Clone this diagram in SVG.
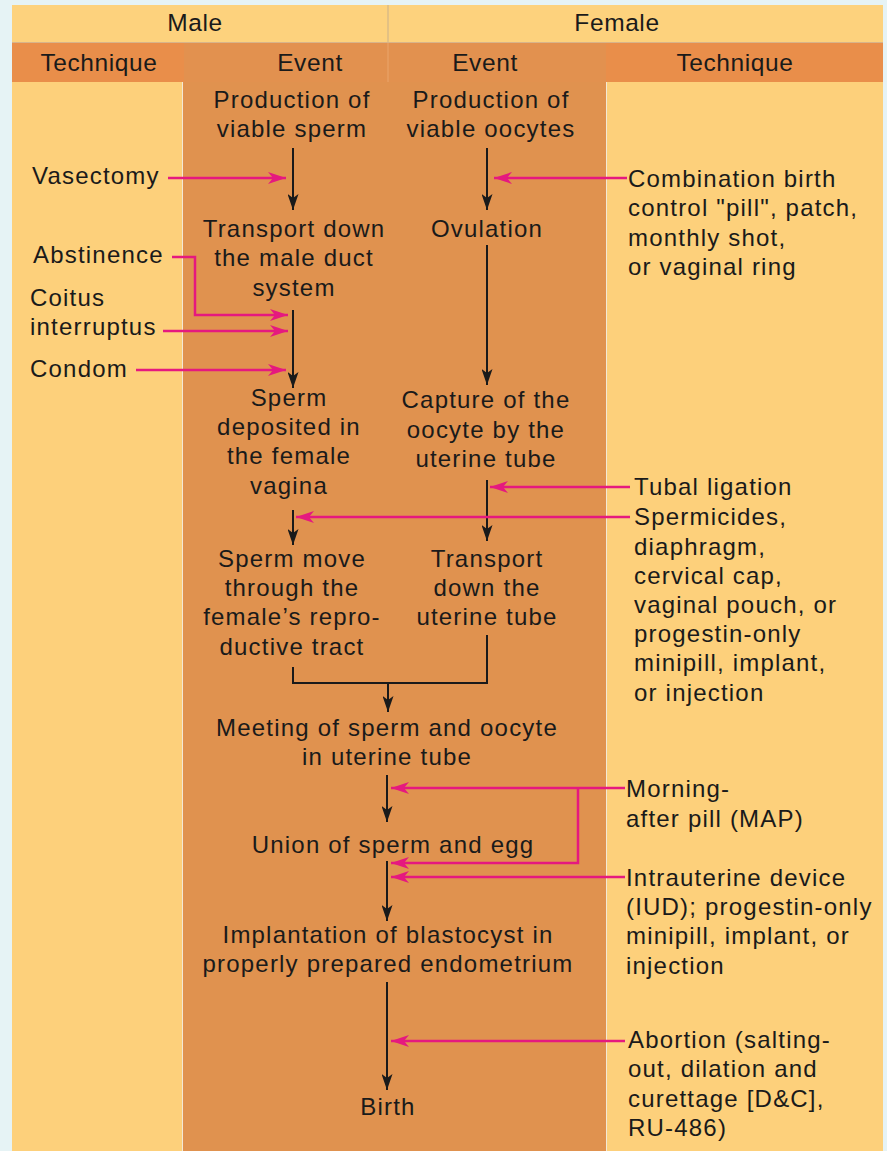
<svg xmlns="http://www.w3.org/2000/svg" width="887" height="1151" viewBox="0 0 887 1151">
<style>
text{font-family:"Liberation Sans",Arial,sans-serif;font-size:24px;fill:#1a1a1a;letter-spacing:1.2px}
.c{text-anchor:middle}
.h{font-size:24.5px;letter-spacing:0.6px}
.bk{stroke:#1a1a1a;stroke-width:2;fill:none}
.pk{stroke:#e5197f;stroke-width:2.5;fill:none}
</style>
<defs>
<marker id="ab" viewBox="0 0 16 11" refX="16" refY="5.5" markerWidth="16" markerHeight="11" markerUnits="userSpaceOnUse" orient="auto"><path d="M0,0 L16,5.5 L0,11 L4,5.5 z" fill="#1a1a1a"/></marker>
<marker id="ap" viewBox="0 0 18 12" refX="18" refY="6" markerWidth="18" markerHeight="12" markerUnits="userSpaceOnUse" orient="auto"><path d="M0,0 L18,6 L0,12 L5,6 z" fill="#e5197f"/></marker>
</defs>
<rect width="887" height="1151" fill="#e6f3f5"/>
<g id="background">
<rect x="12" y="5" width="871" height="37" fill="#fdd27d"/>
<line x1="388" y1="5" x2="388" y2="42" stroke="#c9b08a" stroke-width="1"/>
<rect x="12" y="43" width="871" height="39" fill="#e98e4a"/>
<rect x="184" y="43" width="422" height="39" fill="#e2914f"/>
<line x1="12" y1="42.5" x2="883" y2="42.5" stroke="#d8b48a" stroke-width="1"/>
<line x1="388" y1="43" x2="388" y2="82" stroke="#eaa56c" stroke-width="1"/>
<rect x="12" y="82" width="171" height="1069" fill="#fdd07b"/>
<rect x="183" y="82" width="423" height="1069" fill="#e0924f"/>
<rect x="606" y="82" width="277" height="1069" fill="#fdd07b"/>
<line x1="182.5" y1="82" x2="182.5" y2="1151" stroke="#f3e8d6" stroke-width="1"/>
<line x1="606.5" y1="82" x2="606.5" y2="1151" stroke="#f3e8d6" stroke-width="1"/>
</g>
<g id="headers">
<text class="c h" x="195" y="31">Male</text>
<text class="c h" x="617" y="31">Female</text>
<text class="c h" x="99" y="71">Technique</text>
<text class="c h" x="310" y="71">Event</text>
<text class="c h" x="485" y="71">Event</text>
<text class="c h" x="735" y="71">Technique</text>
</g>
<g id="connectors">
<line class="bk" x1="293" y1="148" x2="293" y2="210" marker-end="url(#ab)"/>
<line class="bk" x1="487" y1="148" x2="487" y2="210" marker-end="url(#ab)"/>
<line class="bk" x1="293" y1="310" x2="293" y2="388" marker-end="url(#ab)"/>
<line class="bk" x1="487" y1="245" x2="487" y2="385" marker-end="url(#ab)"/>
<line class="bk" x1="487" y1="480" x2="487" y2="541" marker-end="url(#ab)"/>
<line class="bk" x1="293" y1="510" x2="293" y2="545" marker-end="url(#ab)"/>
<polyline class="bk" points="293,667 293,683 487,683 487,635"/>
<line class="bk" x1="388" y1="683" x2="388" y2="712" marker-end="url(#ab)"/>
<line class="bk" x1="387" y1="775" x2="387" y2="822" marker-end="url(#ab)"/>
<line class="bk" x1="387" y1="861" x2="387" y2="921" marker-end="url(#ab)"/>
<line class="bk" x1="387" y1="982" x2="387" y2="1090" marker-end="url(#ab)"/>
<line class="pk" x1="168" y1="178" x2="286" y2="178" marker-end="url(#ap)"/>
<polyline class="pk" points="172,257 195,257 195,315 288,315" marker-end="url(#ap)"/>
<line class="pk" x1="163" y1="331" x2="288" y2="331" stroke-width="3.2" marker-end="url(#ap)"/>
<line class="pk" x1="136" y1="370" x2="286" y2="370" marker-end="url(#ap)"/>
<line class="pk" x1="627" y1="178" x2="494" y2="178" marker-end="url(#ap)"/>
<line class="pk" x1="630" y1="487" x2="490" y2="487" marker-end="url(#ap)"/>
<line class="pk" x1="630" y1="517" x2="296" y2="517" stroke-width="3.2" marker-end="url(#ap)"/>
<line class="pk" x1="625" y1="788" x2="391" y2="788" marker-end="url(#ap)"/>
<polyline class="pk" points="578,788 578,863 391,863" marker-end="url(#ap)"/>
<line class="pk" x1="625" y1="877" x2="391" y2="877" marker-end="url(#ap)"/>
<line class="pk" x1="625" y1="1041" x2="391" y2="1041" stroke-width="1.8" marker-end="url(#ap)"/>
</g>
<g id="n-prod-sperm"><text class="c" x="292" y="108">Production of</text><text class="c" x="292" y="137">viable sperm</text></g>
<g id="n-prod-oocytes"><text class="c" x="491" y="108">Production of</text><text class="c" x="491" y="137">viable oocytes</text></g>
<g id="n-transport-male"><text class="c" x="294" y="237">Transport down</text><text class="c" x="294" y="266">the male duct</text><text class="c" x="294" y="296">system</text></g>
<g id="n-ovulation"><text class="c" x="487" y="237">Ovulation</text></g>
<g id="n-deposited"><text class="c" x="289" y="406">Sperm</text><text class="c" x="289" y="435">deposited in</text><text class="c" x="289" y="464">the female</text><text class="c" x="289" y="494">vagina</text></g>
<g id="n-capture"><text class="c" x="486" y="408">Capture of the</text><text class="c" x="486" y="438">oocyte by the</text><text class="c" x="486" y="467">uterine tube</text></g>
<g id="n-sperm-move"><text class="c" x="292" y="567">Sperm move</text><text class="c" x="292" y="596">through the</text><text class="c" x="292" y="625">female’s repro-</text><text class="c" x="292" y="655">ductive tract</text></g>
<g id="n-transport-tube"><text class="c" x="487" y="567">Transport</text><text class="c" x="487" y="596">down the</text><text class="c" x="487" y="625">uterine tube</text></g>
<g id="n-meeting"><text class="c" x="387" y="736">Meeting of sperm and oocyte</text><text class="c" x="387" y="765">in uterine tube</text></g>
<g id="n-union"><text class="c" x="393" y="853">Union of sperm and egg</text></g>
<g id="n-implant"><text class="c" x="388" y="943">Implantation of blastocyst in</text><text class="c" x="388" y="972">properly prepared endometrium</text></g>
<g id="n-birth"><text class="c" x="388" y="1115">Birth</text></g>
<g id="t-vasectomy"><text x="32" y="184">Vasectomy</text></g>
<g id="t-abstinence"><text x="33" y="263">Abstinence</text></g>
<g id="t-coitus"><text x="30" y="306">Coitus</text><text x="30" y="335">interruptus</text></g>
<g id="t-condom"><text x="30" y="377">Condom</text></g>
<g id="t-combination"><text x="628" y="187">Combination birth</text><text x="628" y="216">control "pill", patch,</text><text x="628" y="246">monthly shot,</text><text x="628" y="275">or vaginal ring</text></g>
<g id="t-tubal"><text x="634" y="495">Tubal ligation</text></g>
<g id="t-spermicides"><text x="634" y="525">Spermicides,</text><text x="634" y="555">diaphragm,</text><text x="634" y="584">cervical cap,</text><text x="634" y="613">vaginal pouch, or</text><text x="634" y="642">progestin-only</text><text x="634" y="671">minipill, implant,</text><text x="634" y="701">or injection</text></g>
<g id="t-map"><text x="626" y="797">Morning-</text><text x="626" y="827">after pill (MAP)</text></g>
<g id="t-iud"><text x="626" y="886">Intrauterine device</text><text x="626" y="915">(IUD); progestin-only</text><text x="626" y="944">minipill, implant, or</text><text x="626" y="974">injection</text></g>
<g id="t-abortion"><text x="628" y="1048">Abortion (salting-</text><text x="628" y="1077">out, dilation and</text><text x="628" y="1107">curettage [D&amp;C],</text><text x="628" y="1136">RU-486)</text></g>
</svg>
